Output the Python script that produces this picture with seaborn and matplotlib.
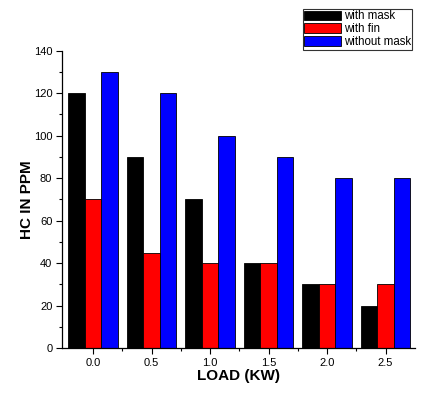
import pandas as pd
import matplotlib
matplotlib.use("Agg")
import matplotlib.pyplot as plt
import seaborn as sns
from matplotlib.ticker import MultipleLocator, FixedLocator

# data
loads = ["0.0", "0.5", "1.0", "1.5", "2.0", "2.5"]
with_mask = [120, 90, 70, 40, 30, 20]
with_fin = [70, 45, 40, 40, 30, 30]
without_mask = [130, 120, 100, 90, 80, 80]

series = ["with mask", "with fin", "without mask"]
colors = ["#000000", "#ff0000", "#0000ff"]

df = pd.DataFrame({
    "load": loads * 3,
    "hc": with_mask + with_fin + without_mask,
    "kind": [s for s in series for _ in loads],
})

sns.set_style("ticks")
plt.rcParams["font.family"] = ["Liberation Sans", "DejaVu Sans"]
plt.rcParams["text.color"] = "black"
plt.rcParams["axes.labelcolor"] = "black"
plt.rcParams["xtick.color"] = "black"
plt.rcParams["ytick.color"] = "black"

fig = plt.figure(figsize=(4.25, 4.12), dpi=100)
ax = fig.add_axes([0.146, 0.155, 0.83, 0.722])

sns.barplot(data=df, x="load", y="hc", hue="kind", order=loads, hue_order=series,
            palette=colors, width=0.84, edgecolor="black", linewidth=0.6,
            saturation=1, legend=True, ax=ax)

ax.set_xlim(-0.53, 5.5)
ax.set_ylim(0, 140)
ax.yaxis.set_major_locator(MultipleLocator(20))
ax.yaxis.set_minor_locator(MultipleLocator(10))
ax.xaxis.set_minor_locator(FixedLocator([0.5, 1.5, 2.5, 3.5, 4.5]))
ax.tick_params(axis="both", which="major", labelsize=8, length=4, width=0.8,
               direction="out", pad=3)
ax.tick_params(axis="both", which="minor", length=2.5, width=0.8, direction="out")
for s in ["top", "right"]:
    ax.spines[s].set_visible(False)
for s in ["left", "bottom"]:
    ax.spines[s].set_linewidth(0.9)
    ax.spines[s].set_color("black")

ax.set_xlabel("LOAD (KW)", fontsize=11, fontweight="bold", labelpad=1)
ax.set_ylabel("HC IN PPM", fontsize=11, fontweight="bold", labelpad=0)

leg = ax.legend(loc="upper left", bbox_to_anchor=(0.712, 0.978), bbox_transform=fig.transFigure,
                fontsize=8.3, frameon=True, fancybox=False, handlelength=3.2, handleheight=0.95,
                handletextpad=0.25, labelspacing=0.08, borderpad=0.12, borderaxespad=0)
leg.get_frame().set_edgecolor("black")
leg.get_frame().set_linewidth(0.8)

fig.savefig("out.png", dpi=100)
